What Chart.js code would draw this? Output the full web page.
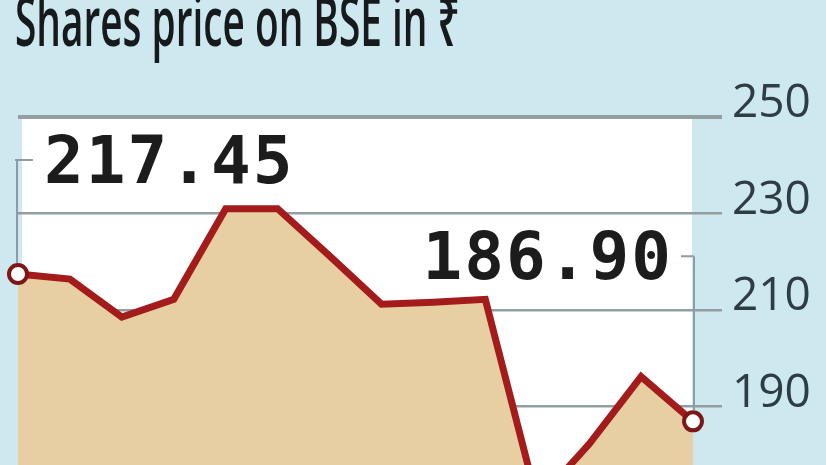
<!DOCTYPE html>
<html>
<head>
<meta charset="utf-8">
<script src="https://cdn.jsdelivr.net/npm/chart.js@4"></script>
<style>
  html, body { margin: 0; padding: 0; }
  body { width: 826px; height: 465px; overflow: hidden; background: #cde8ef; position: relative; }
  #title {
    position: absolute; left: 15px; top: -14px; margin: 0;
    font-family: "Open Sans", "Noto Sans", "DejaVu Sans", sans-serif;
    font-weight: 600; font-size: 68px; line-height: 68px; color: #161a1c;
    white-space: nowrap; transform-origin: 0 0; z-index: 2;
  }
  #wrap { position: absolute; left: 0; top: 0; width: 826px; height: 540px; }
</style>
</head>
<body>
<div id="title">Shares price on BSE in ₹</div>
<div id="wrap"><canvas id="c"></canvas></div>
<script>
// ---- data ----
const categories = ['d1','d2','d3','d4','d5','d6','d7','d8','d9','d10','d11','d12','d13','d14'];
const prices = [217.45, 216.4, 208.5, 212.2, 231.0, 231.0, 221.2, 211.2, 211.6, 212.2, 170.3, 182.2, 196.2, 186.90];
const yTicks = [170, 190, 210, 230, 250];
const firstLabel = '217.45';
const lastLabel = '186.90';

// fit title width
const t = document.getElementById('title');
t.style.transform = 'scaleX(' + (445 / t.offsetWidth) + ')';

const lastIdx = prices.length - 1;

const bgPlugin = {
  id: 'bg',
  beforeDraw(chart) {
    const {ctx, chartArea: a} = chart;
    ctx.save();
    ctx.fillStyle = '#ffffff';
    ctx.fillRect(a.left + 4, a.top, a.right - a.left - 5, a.bottom - a.top);
    ctx.restore();
  }
};

const annoPlugin = {
  id: 'anno',
  afterDatasetsDraw(chart) {
    const {ctx} = chart;
    const pts = chart.getDatasetMeta(0).data;
    const p0 = pts[0], pn = pts[lastIdx];
    ctx.save();
    ctx.strokeStyle = '#8e9ca1';
    ctx.lineWidth = 2;
    ctx.beginPath();
    ctx.moveTo(p0.x - 3, p0.y - 114);
    ctx.lineTo(p0.x + 15, p0.y - 114);
    ctx.moveTo(p0.x - 1, p0.y - 114);
    ctx.lineTo(p0.x - 1, p0.y - 11);
    ctx.moveTo(pn.x - 12, pn.y - 165);
    ctx.lineTo(pn.x + 1, pn.y - 165);
    ctx.moveTo(pn.x + 1, pn.y - 165);
    ctx.lineTo(pn.x + 1, pn.y - 11);
    ctx.stroke();
    ctx.fillStyle = '#1c1c1c';
    ctx.font = 'bold 66px "DejaVu Sans Mono", monospace';
    try { ctx.letterSpacing = '2px'; } catch (e) {}
    ctx.textBaseline = 'alphabetic';
    ctx.textAlign = 'left';
    ctx.fillText(firstLabel, p0.x + 26, p0.y - 91);
    ctx.textAlign = 'right';
    ctx.fillText(lastLabel, pn.x - 20, pn.y - 142);
    ctx.restore();
  }
};

new Chart(document.getElementById('c'), {
  type: 'line',
  data: {
    labels: categories,
    datasets: [{
      data: prices,
      borderColor: '#a31b1b',
      borderWidth: 7,
      backgroundColor: '#e7cfa3',
      fill: 'start',
      tension: 0,
      pointRadius: (c) => (c.dataIndex === 0 || c.dataIndex === lastIdx) ? 9 : 0,
      pointBackgroundColor: '#ffffff',
      pointBorderColor: '#7d1616',
      pointBorderWidth: 4
    }]
  },
  options: {
    responsive: true,
    maintainAspectRatio: false,
    animation: false,
    events: [],
    layout: { padding: { left: 18, top: 117, right: 0, bottom: 5 } },
    plugins: { legend: { display: false }, tooltip: { enabled: false }, title: { display: false } },
    scales: {
      x: { display: false },
      y: {
        position: 'right',
        min: 165,
        max: 250,
        afterBuildTicks: (s) => { s.ticks = yTicks.map(v => ({ value: v })); },
        afterFit: (s) => { s.width = 133; s.paddingTop = 0; s.paddingBottom = 0; },
        border: { display: false },
        grid: {
          color: '#939ea2',
          lineWidth: (c) => (c.tick && c.tick.value === 250) ? 4 : 2.5,
          tickLength: 29,
          drawTicks: true
        },
        ticks: {
          padding: 10,
          labelOffset: -13,
          color: '#2e3c43',
          font: { family: '"Open Sans", "Noto Sans", sans-serif', size: 46 },
          callback: (v) => String(v)
        }
      }
    }
  },
  plugins: [bgPlugin, annoPlugin]
});
</script>
</body>
</html>
